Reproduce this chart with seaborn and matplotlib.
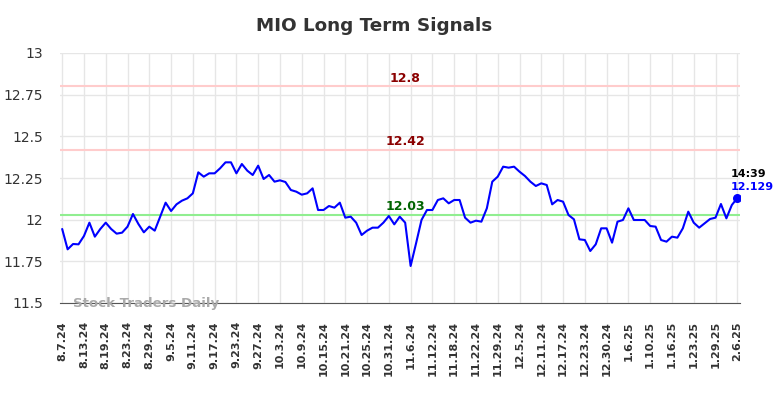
import matplotlib
matplotlib.use("Agg")
import matplotlib.pyplot as plt
import seaborn as sns
import numpy as np
import pandas as pd

tick_labels = ["8.7.24", "8.13.24", "8.19.24", "8.23.24", "8.29.24", "9.5.24", "9.11.24",
               "9.17.24", "9.23.24", "9.27.24", "10.3.24", "10.9.24", "10.15.24", "10.21.24",
               "10.25.24", "10.31.24", "11.6.24", "11.12.24", "11.18.24", "11.22.24",
               "11.29.24", "12.5.24", "12.11.24", "12.17.24", "12.23.24", "12.30.24",
               "1.6.25", "1.10.25", "1.16.25", "1.23.25", "1.29.25", "2.6.25"]

values = [11.944, 11.822, 11.854, 11.852, 11.902, 11.982, 11.898, 11.944, 11.982, 11.944,
          11.916, 11.922, 11.958, 12.034, 11.974, 11.924, 11.958, 11.934, 12.018, 12.102,
          12.052, 12.092, 12.114, 12.128, 12.158, 12.284, 12.258, 12.278, 12.278, 12.308,
          12.344, 12.344, 12.278, 12.334, 12.294, 12.268, 12.324, 12.244, 12.268, 12.228,
          12.236, 12.226, 12.178, 12.168, 12.150, 12.158, 12.188, 12.058, 12.058, 12.082,
          12.072, 12.102, 12.012, 12.018, 11.982, 11.908, 11.934, 11.952, 11.952, 11.982,
          12.022, 11.972, 12.018, 11.982, 11.722, 11.858, 11.998, 12.058, 12.058, 12.118,
          12.128, 12.098, 12.118, 12.118, 12.012, 11.982, 11.994, 11.988, 12.068, 12.228,
          12.258, 12.318, 12.312, 12.318, 12.288, 12.262, 12.228, 12.202, 12.218, 12.208,
          12.092, 12.118, 12.108, 12.028, 12.002, 11.882, 11.878, 11.812, 11.852, 11.948,
          11.948, 11.862, 11.988, 11.998, 12.068, 11.998, 11.998, 11.998, 11.962, 11.958,
          11.878, 11.868, 11.898, 11.892, 11.948, 12.048, 11.982, 11.952, 11.978, 12.004,
          12.012, 12.094, 12.008, 12.088, 12.129]

resistance_hi = 12.8
resistance_lo = 12.42
support = 12.03
last_time = "14:39"
last_value = 12.129

df = pd.DataFrame({"idx": np.arange(len(values)), "value": values})

sns.set_style("white")
plt.rcParams['font.family'] = ['DejaVu Sans']

fig = plt.figure(figsize=(7.84, 3.98), dpi=100)
ax = fig.add_axes([60/784, 1-303/398, 680/784, 250/398])

ax.axhline(resistance_hi, color="#ffcccc", lw=1.5, zorder=1)
ax.axhline(resistance_lo, color="#ffcccc", lw=1.5, zorder=1)
ax.axhline(support, color="#90ee90", lw=1.5, zorder=1)

sns.lineplot(data=df, x="idx", y="value", ax=ax, color="blue", lw=1.5, zorder=3)
ax.scatter([df["idx"].iloc[-1]], [last_value], color="blue", s=30, zorder=4)

mid = 63
ax.text(mid, resistance_hi + 0.01, str(resistance_hi), color="#8b0000", fontsize=9,
        fontweight="bold", ha="center", va="bottom")
ax.text(mid, resistance_lo + 0.01, str(resistance_lo), color="#8b0000", fontsize=9,
        fontweight="bold", ha="center", va="bottom")
ax.text(mid, support + 0.01, str(support), color="#006400", fontsize=9,
        fontweight="bold", ha="center", va="bottom")

n = len(values)
ax.text(n - 2.2, last_value + 0.144, last_time, color="black", fontsize=8,
        fontweight="bold", ha="left", va="center")
ax.text(n - 2.2, last_value + 0.066, f"{last_value}", color="blue", fontsize=8,
        fontweight="bold", ha="left", va="center")

ax.text(2, 11.5, "Stock Traders Daily", color="#aaaaaa", fontsize=9.6,
        fontweight="bold", ha="left", va="center")

ticks = [i * 4 for i in range(len(tick_labels))]
ax.set_xticks(ticks)
ax.set_xticklabels(tick_labels, rotation=90, fontsize=8, fontweight="bold", color="#333333")
yt = [11.5, 11.75, 12, 12.25, 12.5, 12.75, 13]
ax.set_yticks(yt)
ax.set_yticklabels(["11.5", "11.75", "12", "12.25", "12.5", "12.75", "13"], fontsize=10,
                   color="#333333")
ax.set_xlim(-0.4, n - 0.5)
ax.set_ylim(11.5, 13)
ax.grid(True, color="#e6e6e6", lw=1)
ax.set_axisbelow(True)
ax.tick_params(axis="x", length=0, pad=13)
ax.tick_params(axis="y", length=0, pad=12)
for s in ["top", "right", "left"]:
    ax.spines[s].set_visible(False)
ax.spines["bottom"].set_color("#555555")
ax.set_xlabel("")
ax.set_ylabel("")

fig.text(374/784, 1-26/398, "MIO Long Term Signals", fontsize=13.2, fontweight="bold",
         color="#333333", ha="center", va="center")

fig.savefig("out.png", dpi=100)
